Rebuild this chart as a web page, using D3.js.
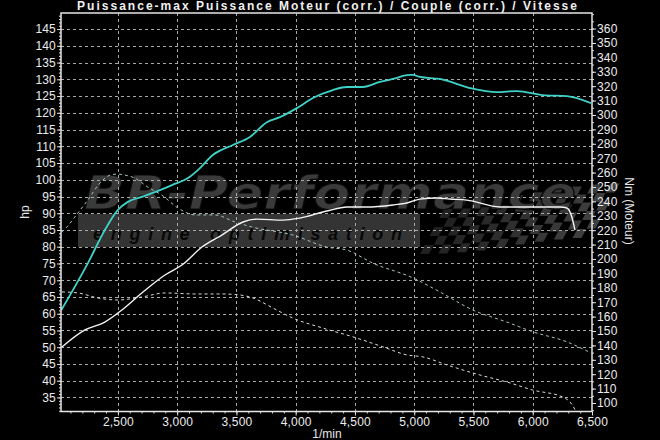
<!DOCTYPE html>
<html><head><meta charset="utf-8">
<script src="https://cdn.jsdelivr.net/npm/d3@7/dist/d3.min.js"></script>
<style>
html,body{margin:0;padding:0;background:#000;}
svg{display:block;font-family:"Liberation Sans",Arial,sans-serif;}
</style></head>
<body><svg id="c" width="660" height="440"></svg>
<script>
// ---- data ----
const title = "Puissance-max Puissance Moteur (corr.) / Couple (corr.) / Vitesse";
const xLabel = "1/min";
const yLeftLabel = "hp";
const yRightLabel = "Nm (Moteur)";
const rpmTicks = [2500,3000,3500,4000,4500,5000,5500,6000,6500];
const hpTicks = [35,40,45,50,55,60,65,70,75,80,85,90,95,100,105,110,115,120,125,130,135,140,145];
const nmTicks = [100,110,120,130,140,150,160,170,180,190,200,210,220,230,240,250,260,270,280,290,300,310,320,330,340,350,360];

// Power tuned (hp, cyan)
const powerRpm = [2023,2247,2390,2500,2584,2702,2812,2956,3091,3175,3301,3470,3614,3757,3867,4010,4145,4314,4432,4567,4710,4820,4964,4989,5048,5217,5470,5698,5866,6086,6288,6491];
const powerHp  = [61.1,75.1,85.0,91.0,93.4,94.9,96.3,98.4,100.5,102.9,107.4,110.4,112.8,117.2,118.7,121.4,124.4,126.8,127.7,127.7,129.2,130.1,131.3,131.3,130.7,130.1,127.4,126.2,126.5,125.3,125.0,122.9];

// Torque tuned (Nm, white)
const torqueRpm = [2028,2222,2390,2534,2702,2897,3040,3209,3377,3555,3673,3892,4036,4263,4432,4601,4820,4938,5048,5191,5301,5444,5723,5951,6229,6288,6330,6356];
const torqueNm  = [138.9,150.7,156.2,164.6,176.4,188.9,195.8,208.3,216.6,225.7,227.7,227.0,228.4,233.3,236.1,236.1,237.5,238.9,241.6,242.3,241.6,240.9,236.1,236.1,236.1,235.4,229.1,220.1];

// Dashed curve A (hp scale)
const dashARpm = [2028,2070,2137,2247,2348,2416,2492,2559,2643,2753,2871,3006,3150,3318,3487,3630,3976,4263,4432,4651,4989,5217,5495,5782,6001,6288,6491];
const dashAHp  = [84.4,85.9,88.9,94.0,99.0,101.1,101.7,101.4,100.5,97.8,95.4,91.6,89.5,89.5,87.4,85.9,83.5,79.9,79.0,75.1,70.7,66.5,61.1,57.5,54.6,51.6,48.3];

// Dashed curve B (hp scale)
const dashBRpm = [2028,2163,2331,2500,2702,2897,3150,3377,3529,3639,3808,3976,4230,4483,4736,4938,5073,5276,5554,5782,6001,6254,6313,6372];
const dashBHp  = [66.5,66.2,64.7,64.1,65.0,66.2,65.9,65.9,65.6,64.7,61.7,58.7,55.7,53.1,50.1,47.7,47.1,44.7,41.7,39.6,37.2,35.1,33.7,30.4];

// ---- chart ----
const svg = d3.select("#c");
svg.append("rect").attr("width",660).attr("height",440).attr("fill","#000");

const L=61, R=592, T=13, B=411.5;
const x  = d3.scaleLinear().domain([2020,6500]).range([L,R]);
const yL = d3.scaleLinear().domain([30.8,149.8]).range([B,T]);
const yR = d3.scaleLinear().domain([94.1,370.8]).range([B,T]);

svg.append("defs").append("clipPath").attr("id","plotclip")
  .append("rect").attr("x",L).attr("y",T).attr("width",R-L).attr("height",B-T);

// watermark
const wm = svg.append("g");
wm.append("rect").attr("x",78).attr("y",214).attr("width",342).attr("height",33).attr("fill","#343434");
const flag = wm.append("g").attr("transform","translate(420,254) skewX(-28)");
for (let c=0;c<18;c++){
  for (let r=0;r<6;r++){
    if ((c+r)%2===0){
      flag.append("rect").attr("x",c*9).attr("y",-(r+1)*9 - c*0.9 + Math.sin(c/3)*2)
        .attr("width",9).attr("height",9)
        .attr("fill","#404040").attr("opacity",0.5+0.5*c/17);
    }
  }
}
wm.append("text").attr("x",84).attr("y",209)
  .attr("font-size",46).attr("font-style","italic").attr("font-weight","bold")
  .attr("font-family","'DejaVu Sans',sans-serif")
  .attr("fill","#3a3a3a").attr("stroke","#0a0a0a").attr("stroke-width",1.2)
  .attr("textLength",492).attr("lengthAdjust","spacingAndGlyphs")
  .text("BR-Performance");
wm.append("text").attr("x",93).attr("y",240)
  .attr("font-size",18).attr("font-style","italic").attr("font-weight","bold")
  .attr("fill","#080808")
  .attr("textLength",309)
  .text("engine optimisation");

// grid
const grid = svg.append("g").attr("stroke","#a8a8a8").attr("stroke-width",1).attr("stroke-dasharray","3,3");
grid.selectAll("line.h").data(hpTicks).join("line")
  .attr("x1",L).attr("x2",R).attr("y1",d=>Math.round(yL(d))+0.5).attr("y2",d=>Math.round(yL(d))+0.5);
grid.selectAll("line.v").data(rpmTicks.filter(d=>d<6500)).join("line")
  .attr("y1",T).attr("y2",B).attr("x1",d=>Math.round(x(d))+0.5).attr("x2",d=>Math.round(x(d))+0.5);

// curves
const cg = svg.append("g").attr("clip-path","url(#plotclip)");
const lineL = d3.line().x(d=>x(d[0])).y(d=>yL(d[1])).curve(d3.curveMonotoneX);
const lineR = d3.line().x(d=>x(d[0])).y(d=>yR(d[1])).curve(d3.curveMonotoneX);
cg.append("path").datum(d3.zip(dashBRpm,dashBHp)).attr("d",lineL)
  .attr("fill","none").attr("stroke","#dcdcdc").attr("stroke-width",1).attr("stroke-dasharray","3,3");
cg.append("path").datum(d3.zip(dashARpm,dashAHp)).attr("d",lineL)
  .attr("fill","none").attr("stroke","#a6c4c2").attr("stroke-width",1).attr("stroke-dasharray","3,3");
cg.append("path").datum(d3.zip(torqueRpm,torqueNm)).attr("d",lineR)
  .attr("fill","none").attr("stroke","#f4f4f4").attr("stroke-width",1.4);
cg.append("path").datum(d3.zip(powerRpm,powerHp)).attr("d",lineL)
  .attr("fill","none").attr("stroke","#3fd2c6").attr("stroke-width",1.8);

// frame
svg.append("rect").attr("x",L).attr("y",T).attr("width",R-L).attr("height",B-T)
  .attr("fill","none").attr("stroke","#e6e6e6").attr("stroke-width",1.5);

// axes
function styleAxis(g){
  g.select(".domain").remove();
  g.selectAll(".tick line").attr("stroke","#e0e0e0");
  g.selectAll(".tick text").attr("fill","#ececec").attr("font-size",12)
    .attr("font-family","'Liberation Sans',Arial,sans-serif").attr("letter-spacing","0.2px");
}
const minorHp = d3.range(31,150,1);
const minorNm = d3.range(95,371,5);
const minorRpm = d3.range(2100,6500,100);

svg.append("g").attr("transform",`translate(${L},0)`)
  .call(d3.axisLeft(yL).tickValues(minorHp).tickSize(2).tickFormat("")).call(styleAxis);
svg.append("g").attr("transform",`translate(${L},0)`)
  .call(d3.axisLeft(yL).tickValues(hpTicks).tickSize(4).tickPadding(1)).call(styleAxis);

svg.append("g").attr("transform",`translate(${R},0)`)
  .call(d3.axisRight(yR).tickValues(minorNm).tickSize(2).tickFormat("")).call(styleAxis);
svg.append("g").attr("transform",`translate(${R},0)`)
  .call(d3.axisRight(yR).tickValues(nmTicks).tickSize(4).tickPadding(1)).call(styleAxis);

svg.append("g").attr("transform",`translate(0,${B})`)
  .call(d3.axisBottom(x).tickValues(minorRpm).tickSize(2).tickFormat("")).call(styleAxis);
svg.append("g").attr("transform",`translate(0,${B})`)
  .call(d3.axisBottom(x).tickValues(rpmTicks).tickSize(4).tickPadding(2).tickFormat(d3.format(","))).call(styleAxis);

// labels
svg.append("text").attr("x",327).attr("y",10).attr("text-anchor","middle")
  .attr("font-size",12).attr("font-weight","bold").attr("fill","#f0f0f0")
  .attr("textLength",500).text(title);
svg.append("text").attr("x",327).attr("y",438).attr("text-anchor","middle")
  .attr("font-size",12).attr("fill","#e6e6e6").text(xLabel);
svg.append("text").attr("transform","translate(29,212) rotate(-90)").attr("text-anchor","middle")
  .attr("font-size",12).attr("fill","#e6e6e6").text(yLeftLabel);
svg.append("text").attr("transform","translate(625,211) rotate(90)").attr("text-anchor","middle")
  .attr("font-size",12).attr("fill","#e6e6e6").text(yRightLabel);
</script></body></html>
